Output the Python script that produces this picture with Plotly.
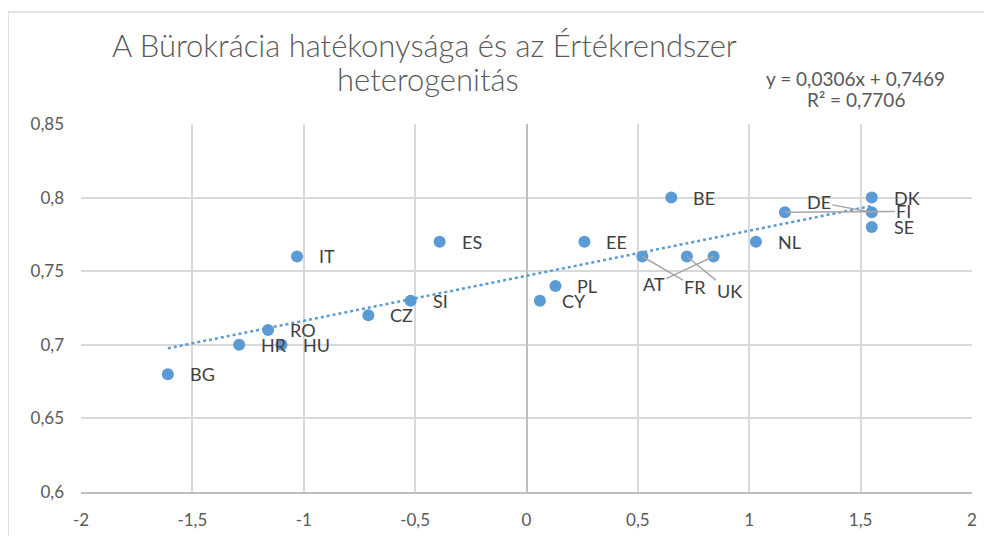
import plotly.graph_objects as go

# ---------------- data ----------------
countries = ["BG", "HR", "HU", "RO", "IT", "CZ", "SI", "ES", "CY", "PL",
             "EE", "FR", "UK", "AT", "BE", "NL", "FI", "DK", "DE", "SE"]
x_vals = [-1.61, -1.29, -1.10, -1.16, -1.03, -0.71, -0.52, -0.39, 0.06, 0.13,
          0.26, 0.52, 0.72, 0.84, 0.65, 1.03, 1.16, 1.55, 1.55, 1.55]
y_vals = [0.68, 0.70, 0.70, 0.71, 0.76, 0.72, 0.73, 0.77, 0.73, 0.74,
          0.77, 0.76, 0.76, 0.76, 0.80, 0.77, 0.79, 0.80, 0.79, 0.78]

trend_slope = 0.0306
trend_intercept = 0.7469
equation_text = "y = 0,0306x + 0,7469"
r2_text = "R² = 0,7706"

title_line1 = "A Bürokrácia hatékonysága és az Értékrendszer"
title_line2 = "heterogenitás"

x_tickvals = [-2, -1.5, -1, -0.5, 0, 0.5, 1, 1.5, 2]
x_ticktext = ["-2", "-1,5", "-1", "-0,5", "0", "0,5", "1", "1,5", "2"]
y_tickvals = [0.6, 0.65, 0.7, 0.75, 0.8, 0.85]
y_ticktext = ["0,6", "0,65", "0,7", "0,75", "0,8", "0,85"]

# ---------------- styling ----------------
FONT = "Lato, Carlito, Calibri, 'Open Sans', sans-serif"
BLUE = "#5B9BD5"
TICK_COLOR = "#595959"
LABEL_COLOR = "#404040"
GRID = "#D9D9D9"
LEADER = "#A6A6A6"

# labels that were dragged away with leader lines: pixel offset (ax, ay) of label centre
leader_offsets = {"FR": (53, 31), "UK": (43, 35), "AT": (-60, 28),
                  "DE": (-53, -10), "FI": (119, -1)}
default_xshift = 20

# page body has an 8px default margin
PAGE_OFF = 8
W, H = 992, 536
PLOT_L, PLOT_R, PLOT_T, PLOT_B = 81, 972, 124, 492   # in page pixels
ML = PLOT_L - PAGE_OFF
MT = PLOT_T - PAGE_OFF
MR = W - (PLOT_R - PAGE_OFF)
MB = H - (PLOT_B - PAGE_OFF)

fig = go.Figure()

# trend line over the data's x-extent
tx = [min(x_vals), max(x_vals)]
ty = [trend_slope * v + trend_intercept for v in tx]
fig.add_trace(go.Scatter(
    x=tx, y=ty, mode="lines",
    line=dict(color=BLUE, width=2.5, dash="dot"),
    hoverinfo="skip", showlegend=False))

fig.add_trace(go.Scatter(
    x=x_vals, y=y_vals, mode="markers",
    marker=dict(color=BLUE, size=12, line=dict(width=0)),
    text=countries, showlegend=False))

annotations = []
for c, xv, yv in zip(countries, x_vals, y_vals):
    if c in leader_offsets:
        ax, ay = leader_offsets[c]
        annotations.append(dict(
            x=xv, y=yv, xref="x", yref="y", text=c,
            showarrow=True, arrowhead=0, arrowwidth=1.5, arrowcolor=LEADER,
            ax=ax, ay=ay, standoff=0, startstandoff=0,
            font=dict(family=FONT, size=18, color=LABEL_COLOR)))
    else:
        annotations.append(dict(
            x=xv, y=yv, xref="x", yref="y", text=c,
            showarrow=False, xanchor="left", yanchor="middle",
            xshift=default_xshift,
            font=dict(family=FONT, size=18, color=LABEL_COLOR)))


def px_to_paper_x(px):
    return (px - PLOT_L) / (PLOT_R - PLOT_L)


def py_to_paper_y(py):
    return (PLOT_B - py) / (PLOT_B - PLOT_T)


# title (two lines)
annotations.append(dict(
    x=px_to_paper_x(424), y=py_to_paper_y(45), xref="paper", yref="paper",
    text=title_line1, showarrow=False, xanchor="center", yanchor="middle",
    font=dict(family=FONT, size=31, color=TICK_COLOR, weight=300)))
annotations.append(dict(
    x=px_to_paper_x(428), y=py_to_paper_y(79), xref="paper", yref="paper",
    text=title_line2, showarrow=False, xanchor="center", yanchor="middle",
    font=dict(family=FONT, size=31, color=TICK_COLOR, weight=300)))

# regression equation
annotations.append(dict(
    x=px_to_paper_x(855), y=py_to_paper_y(78), xref="paper", yref="paper",
    text=equation_text, showarrow=False, xanchor="center", yanchor="middle",
    font=dict(family=FONT, size=19, color=TICK_COLOR)))
annotations.append(dict(
    x=px_to_paper_x(856), y=py_to_paper_y(100), xref="paper", yref="paper",
    text=r2_text, showarrow=False, xanchor="center", yanchor="middle",
    font=dict(family=FONT, size=19, color=TICK_COLOR)))

# outer chart border
shapes = [dict(
    type="rect", xref="paper", yref="paper",
    x0=px_to_paper_x(8), x1=px_to_paper_x(1010),
    y0=py_to_paper_y(580), y1=py_to_paper_y(12),
    line=dict(color=GRID, width=1.5), fillcolor="rgba(0,0,0,0)", layer="below")]

fig.update_layout(
    width=W, height=H,
    margin=dict(l=ML, r=MR, t=MT, b=MB, autoexpand=False),
    paper_bgcolor="white", plot_bgcolor="white",
    separators=", ",
    annotations=annotations,
    shapes=shapes,
    showlegend=False,
    font=dict(family=FONT, color=TICK_COLOR),
)

fig.update_xaxes(
    range=[-2, 2], tickvals=x_tickvals, ticktext=x_ticktext,
    showgrid=True, gridcolor=GRID, gridwidth=1.5,
    zeroline=True, zerolinecolor="#BFBFBF", zerolinewidth=1.5,
    showline=True, linecolor="#BFBFBF", linewidth=1.5,
    ticks="", ticklabelstandoff=12,
    tickfont=dict(family=FONT, size=17, color=TICK_COLOR),
    fixedrange=True)

fig.update_yaxes(
    range=[0.6, 0.85], tickvals=y_tickvals, ticktext=y_ticktext,
    showgrid=True, gridcolor=GRID, gridwidth=1.5,
    zeroline=False, showline=False,
    ticks="", ticklabelstandoff=16,
    tickfont=dict(family=FONT, size=17, color=TICK_COLOR),
    fixedrange=True)

fig.write_html("out.html")
